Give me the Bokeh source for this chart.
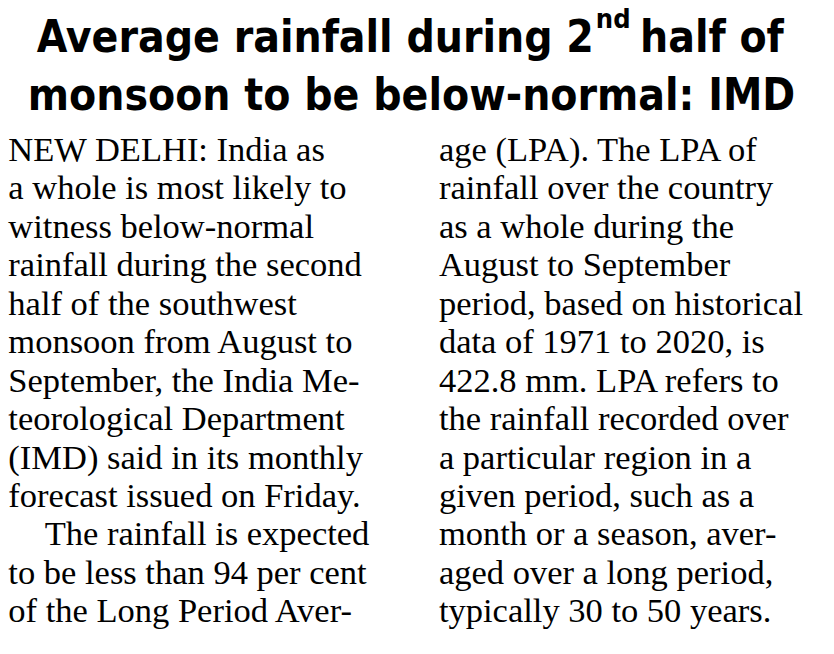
from bokeh.plotting import figure
from bokeh.models import Range1d, ColumnDataSource
from bokeh.core.properties import value
from bokeh.embed import file_html
from bokeh.resources import INLINE

# ---- content ----
headline_1_left = "Average rainfall during 2"
headline_1_sup = "nd"
headline_1_right = "half of"
headline_2 = "monsoon to be below-normal: IMD"

left_lines = [
    "NEW DELHI: India as",
    "a whole is most likely to",
    "witness below-normal",
    "rainfall during the second",
    "half of the southwest",
    "monsoon from August to",
    "September, the India Me-",
    "teorological Department",
    "(IMD) said in its monthly",
    "forecast issued on Friday.",
    "The rainfall is expected",
    "to be less than 94 per cent",
    "of the Long Period Aver-",
]
right_lines = [
    "age (LPA). The LPA of",
    "rainfall over the country",
    "as a whole during the",
    "August to September",
    "period, based on historical",
    "data of 1971 to 2020, is",
    "422.8 mm.  LPA refers to",
    "the rainfall recorded over",
    "a particular region in a",
    "given period, such as a",
    "month or a season, aver-",
    "aged over a long period,",
    "typically 30 to 50 years.",
]
left_paragraph_starts = [10]

# ---- layout (page coordinates of an 834x654 sheet mapped onto the figure) ----
W, H = 818, 638
SY = H / 654.0
p = figure(width=W, height=H, output_backend="svg", toolbar_location=None,
           x_range=Range1d(0, 834), y_range=Range1d(654, 0),
           min_border=0)
p.axis.visible = False
p.grid.visible = False
p.outline_line_color = None
p.background_fill_color = "white"
p.border_fill_color = "white"

head_font = value("DejaVu Sans Condensed, Roboto Condensed, Roboto")
body_font = value("Liberation Serif")
HS, SUP, BS = 44, 27, 34.5
K = 0.36  # baseline correction (em)


def base(y, size):
    return y - K * size / SY


# headline
p.text(x=[605], y=[base(53, HS)], text=[headline_1_left], text_font=head_font, text_font_style="bold",
       text_font_size=f"{HS}px", text_align="right", text_baseline="alphabetic", text_color="black")
p.text(x=[607], y=[base(28, SUP)], text=[headline_1_sup], text_font=head_font, text_font_style="bold",
       text_font_size=f"{SUP}px", text_align="left", text_baseline="alphabetic", text_color="black")
p.text(x=[652], y=[base(53, HS)], text=[headline_1_right], text_font=head_font, text_font_style="bold",
       text_font_size=f"{HS}px", text_align="left", text_baseline="alphabetic", text_color="black")
p.text(x=[419], y=[base(113, HS)], text=[headline_2], text_font=head_font, text_font_style="bold",
       text_font_size=f"{HS}px", text_align="center", text_baseline="alphabetic", text_color="black")

# body columns
base0, step = 165, 39.4
col_x = [8, 447]
indent = 37
for ci, lines in enumerate([left_lines, right_lines]):
    xs, ys = [], []
    for i, _ in enumerate(lines):
        ind = indent if (ci == 0 and i in left_paragraph_starts) else 0
        xs.append(col_x[ci] + ind)
        ys.append(base(base0 + i * step, BS))
    src = ColumnDataSource(dict(x=xs, y=ys, t=lines))
    p.text(x="x", y="y", text="t", source=src, text_font=body_font,
           text_font_size=f"{BS}px", text_align="left", text_baseline="alphabetic",
           text_color="black")

open("out.html", "w").write(file_html(p, INLINE))
